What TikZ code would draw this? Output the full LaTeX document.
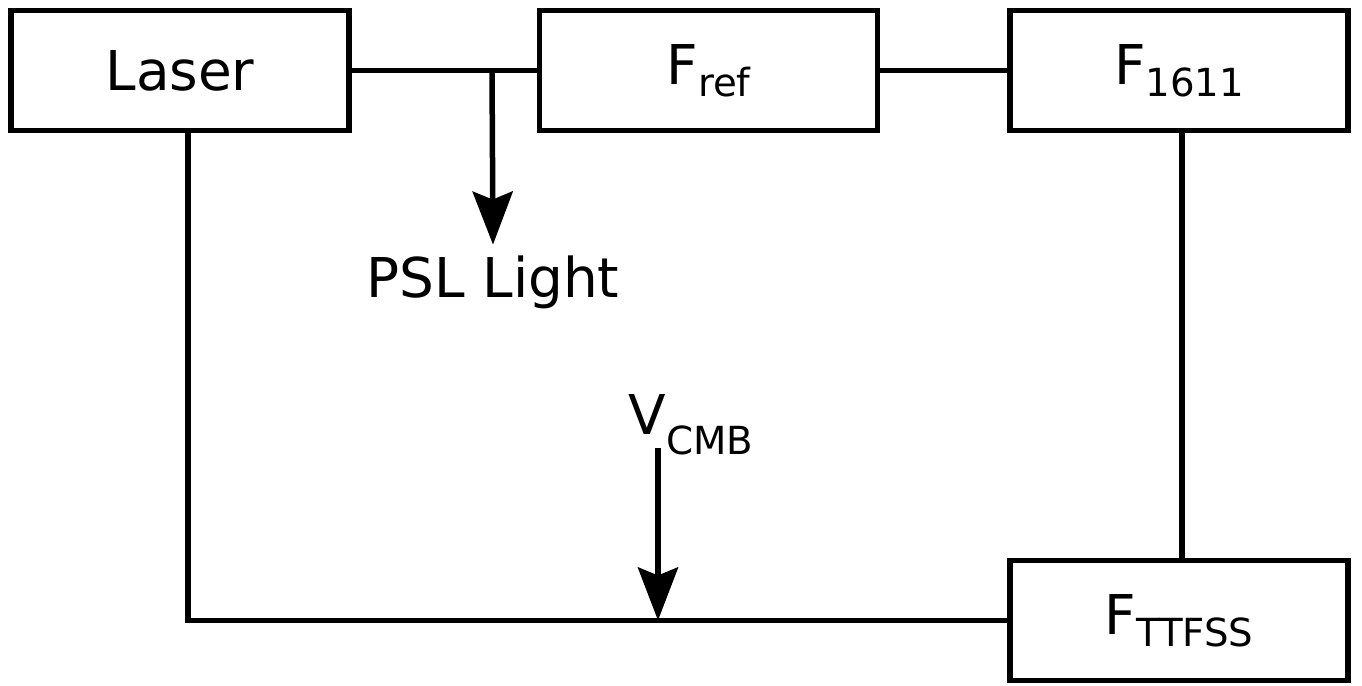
\documentclass[tikz,border=0pt]{standalone}
\usepackage{fontspec}
\setmainfont{DejaVu Sans}
\usepackage{tikz}
\usetikzlibrary{arrows.meta, positioning, calc}
\newcommand{\lsub}[2][3.4pt]{\raisebox{-#1}{\fontsize{11}{13}\selectfont #2}}
\tikzset{
  block/.style={rectangle, draw=black, fill=white,
    minimum width=3.38cm, minimum height=1.2cm, inner sep=0pt,
    font=\fontsize{15.6}{18}\selectfont, line width=0.055cm},
  lbl/.style={font=\fontsize{15.6}{18}\selectfont, inner sep=0pt},
  arrow/.style={-{Stealth[length=0.53cm, width=0.4cm, inset=0.08cm]}, line width=0.055cm},
  line/.style={line width=0.055cm}
}
\begin{document}
\begin{tikzpicture}[x=0.01cm, y=-0.01cm]
  \useasboundingbox (0,0) rectangle (1362,686);
  % Blocks
  \node[block] (laser) at (180,70.5) {Laser};
  \node[block] (fref) at (708.5,70.5) {F\lsub{ref}};
  \node[block] (f1611) at (1179,70.5) {F\lsub{1611}};
  \node[block] (fttfss) at (1179,620.5) {F\lsub{TTFSS}};
  % Labels
  \node[lbl, anchor=base] (psl) at (493,298) {PSL Light};
  \node[lbl, anchor=base west] (vcmb) at (628,435) {V\lsub[5.5pt]{CMB}};
  % Connections
  \coordinate (split) at (492,70.5);
  \draw[line] (laser.east) -- (fref.west);
  \draw[line] (fref.east) -- (f1611.west);
  \draw[line] ([xshift=0.03cm]f1611.south) -- ([xshift=0.03cm]fttfss.north);
  \draw[line] ([xshift=0.08cm]laser.south) |- (fttfss.west);
  \draw[arrow] (split) -- ([yshift=0.11cm]psl.north);
  \coordinate (vin) at (658,448);
  \draw[arrow] (vin) -- (vin |- fttfss.west);
\end{tikzpicture}
\end{document}
